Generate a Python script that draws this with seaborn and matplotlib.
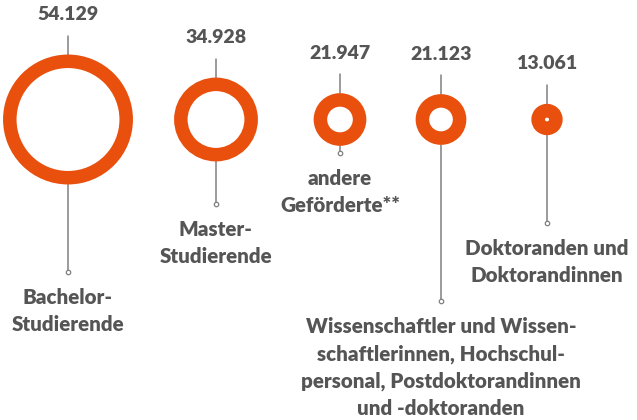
import numpy as np
import matplotlib
matplotlib.use("Agg")
import matplotlib.pyplot as plt
import seaborn as sns

# values (people funded) and their labels
groups = [
    "Bachelor-\nStudierende",
    "Master-\nStudierende",
    "andere\nGeförderte**",
    "Wissenschaftler und Wissen-\nschaftlerinnen, Hochschul-\npersonal, Postdoktorandinnen\nund -doktoranden",
    "Doktoranden und\nDoktorandinnen",
]
values = [54129, 34928, 21947, 21123, 13061]

# layout (pixel units, figure is 637x420)
x_pos = [68, 216, 340, 441, 547]
label_y = [272, 204, 153, 301, 223]
center_y = 119.5
px_per_unit = 0.0012   # outer radius in px per person
ring_w = 13.5           # ring thickness in px
orange = "#E9500E"
grey = "#555555"
line_c = "#808080"

sns.set_style("white")
plt.rcParams["font.family"] = ["Lato", "DejaVu Sans"]

fig = plt.figure(figsize=(6.37, 4.2), dpi=100)
ax = fig.add_axes([0, 0, 1, 1])
ax.set_xlim(0, 637)
ax.set_ylim(420, 0)
ax.axis("off")

radii = np.array(values) * px_per_unit
pt = 72 / fig.dpi
# marker size: path diameter (middle of stroke) in points, squared
sizes = (2 * (radii - ring_w / 2) * pt) ** 2

for x, r, ly, v, g in zip(x_pos, radii, label_y, values, groups):
    top = center_y - r
    ax.plot([x, x], [top - 19, top], color=line_c, lw=1.1, zorder=1)
    ax.plot([x, x], [center_y + r, ly], color=line_c, lw=1.1, zorder=1)
    ax.plot(x, ly, "o", ms=3.2, mfc="white", mec=line_c, mew=0.9, zorder=2)
    ax.text(x, top - 40, f"{v:,}".replace(",", "."), ha="center", va="center",
            fontsize=14, fontweight="heavy", color=grey)
    ax.text(x, ly + 16, g, ha="center", va="top", fontsize=14.8,
            fontweight="heavy", color=grey, linespacing=1.5)

sns.scatterplot(x=x_pos, y=[center_y] * len(values), s=sizes, ax=ax,
                facecolor="none", edgecolor=orange, linewidth=ring_w * pt,
                legend=False, zorder=3)

fig.savefig("out.png", dpi=100)
